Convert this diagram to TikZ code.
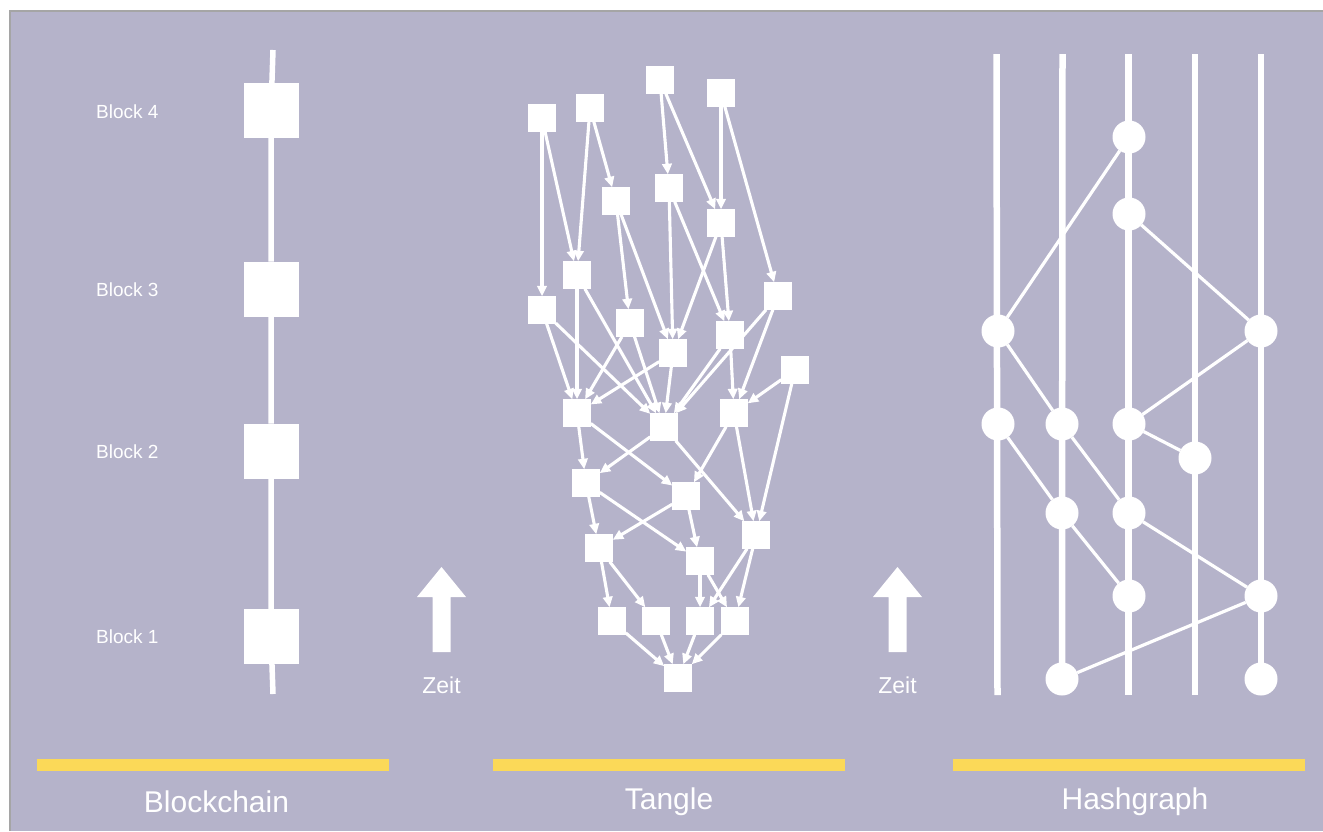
\documentclass[tikz,border=0pt]{standalone}
\usepackage{fontspec}
\setmainfont{Liberation Sans}
\usetikzlibrary{arrows.meta}
\definecolor{bgc}{RGB}{181,179,202}
\definecolor{barc}{RGB}{251,217,88}
\definecolor{framec}{RGB}{165,165,165}
\pgfdeclarelayer{canvas}
\pgfdeclarelayer{behind}
\pgfsetlayers{canvas,behind,main}
\begin{document}
\begin{tikzpicture}[x=1pt,y=-1pt,
  tn/.style={fill=white, minimum size=27.5pt, inner sep=0pt, outer sep=0pt},
  bk/.style={fill=white, minimum size=55pt, inner sep=0pt, outer sep=0pt},
  hn/.style={circle, fill=white, minimum size=33pt, inner sep=0pt, outer sep=0pt},
  te/.style={white, line width=3.1pt, -{Triangle[length=10.5pt,width=9.5pt]}},
  he/.style={white, line width=3.2pt},
  hl/.style={white, line width=6.5pt},
  bl/.style={white, line width=5.5pt},
  lbl/.style={text=white, inner sep=0pt, anchor=west, font=\fontsize{19}{22}\selectfont},
  ttl/.style={text=white, inner sep=0pt, font=\fontsize{30}{36}\selectfont},
  zt/.style={text=white, inner sep=0pt, font=\fontsize{23}{27}\selectfont},
  timearrow/.style={fill=white},
  bar/.style={fill=barc}
]
\useasboundingbox (0,0) rectangle (1323,831);
\begin{pgfonlayer}{canvas}
\fill[white] (0,0) rectangle (1323,831);
\fill[bgc] (10,11) rectangle (1323,831);
\draw[framec, line width=1.5pt] (10,831) -- (10,11) -- (1323,11);
\end{pgfonlayer}

% ---------------- Blockchain ----------------
\coordinate (bt) at (273,50);
\coordinate (bb) at (273,694);
\node[bk] (B4) at (271,110.5) {};
\node[bk] (B3) at (271,289) {};
\node[bk] (B2) at (271,451) {};
\node[bk] (B1) at (271,636.5) {};
\draw[bl] (bt) -- (B4) (B4) -- (B3) (B3) -- (B2) (B2) -- (B1) (B1) -- (bb);
\node[lbl] (l4) at (96,112) {Block 4};
\node[lbl] (l3) at (96,290) {Block 3};
\node[lbl] (l2) at (96,452) {Block 2};
\node[lbl] (l1) at (96,637) {Block 1};

% time arrows
\fill[timearrow] (432.5,652) -- (432.5,597) -- (417,597) -- (441.5,567) -- (466,597) -- (450.5,597) -- (450.5,652) -- cycle;
\node[zt] (z1) at (441.5,685) {Zeit};
\fill[timearrow] (888.5,652) -- (888.5,597) -- (873,597) -- (897.5,567) -- (922,597) -- (906.5,597) -- (906.5,652) -- cycle;
\node[zt] (z2) at (897.5,685) {Zeit};

% ---------------- Tangle ----------------
\node[tn] (T1) at (542,118) {};
\node[tn] (T2) at (590,108) {};
\node[tn] (T3) at (660,80) {};
\node[tn] (T4) at (721,93) {};
\node[tn] (A) at (616,201) {};
\node[tn] (B) at (669,188) {};
\node[tn] (C) at (721,223) {};
\node[tn] (D) at (577,275) {};
\node[tn] (E) at (542,310) {};
\node[tn] (F) at (630,323) {};
\node[tn] (G) at (778,296) {};
\node[tn] (H) at (730,335) {};
\node[tn] (I) at (673,353) {};
\node[tn] (J) at (795,370) {};
\node[tn] (K) at (577,413) {};
\node[tn] (L) at (664,427) {};
\node[tn] (M) at (734,413) {};
\node[tn] (N) at (586,483) {};
\node[tn] (O) at (686,496) {};
\node[tn] (P) at (756,535) {};
\node[tn] (Q) at (599,548) {};
\node[tn] (R) at (700,561) {};
\node[tn] (S1) at (612,621) {};
\node[tn] (S2) at (656,621) {};
\node[tn] (S3) at (700,621) {};
\node[tn] (S4) at (735,621) {};
\node[tn] (Z) at (678,678) {};

\foreach \a/\b in {T1/E,T1/D,T2/D,T2/A,T3/B,T3/C,T4/C,T4/G,
  A/F,A/I,B/I,B/H,C/I,C/H,
  D/K,D/L,E/K,E/L,F/K,F/L,G/L,G/M,H/L,H/M,I/K,I/L,J/M,J/P,
  K/N,K/O,L/N,L/P,M/O,M/P,
  N/Q,N/R,O/Q,O/R,P/S3,P/S4,
  Q/S1,Q/S2,R/S3,R/S4,
  S1/Z,S2/Z,S3/Z,S4/Z}
  \draw[te] (\a) -- (\b);

% ---------------- Hashgraph ----------------
\node[hn] (H1) at (1129,137) {};
\node[hn] (H2) at (1129,214) {};
\node[hn] (H3) at (998,331) {};
\node[hn] (H4) at (1261,331) {};
\node[hn] (H5) at (998,424) {};
\node[hn] (H6) at (1062,424) {};
\node[hn] (H7) at (1129,424) {};
\node[hn] (H8) at (1195,458) {};
\node[hn] (H9) at (1062,513) {};
\node[hn] (H10) at (1129,513) {};
\node[hn] (H11) at (1129,596) {};
\node[hn] (H12) at (1261,596) {};
\node[hn] (H13) at (1062,679) {};
\node[hn] (H14) at (1261,679) {};

\coordinate (v1t) at (996.5,54);  \coordinate (v1b) at (997.5,695);
\coordinate (v2t) at (1062.5,54);
\coordinate (v3t) at (1128.5,54); \coordinate (v3b) at (1128.5,695);
\coordinate (v4t) at (1195,54);   \coordinate (v4b) at (1195,695);
\coordinate (v5t) at (1261,54);

\begin{pgfonlayer}{behind}
\draw[hl] (v1t) -- (v1b);
\draw[hl] (v2t) -- (H13.center);
\draw[hl] (v3t) -- (v3b);
\draw[hl] (v4t) -- (v4b);
\draw[hl] (v5t) -- (H14.center);
\end{pgfonlayer}

\foreach \a/\b in {H3/H1,H2/H4,H3/H6,H4/H7,H5/H9,H6/H10,H7/H8,H9/H11,H10/H12,H12/H13}
  \draw[he] (\a) -- (\b);

% ---------------- bars and titles ----------------
\fill[bar] (37,759) rectangle (389,771);
\fill[bar] (493,759) rectangle (845,771);
\fill[bar] (953,759) rectangle (1305,771);
\node[ttl] (t1) at (216.5,802) {Blockchain};
\node[ttl] (t2) at (669,802) {Tangle};
\node[ttl] (t3) at (1135,802) {Hashgraph};
\end{tikzpicture}
\end{document}
